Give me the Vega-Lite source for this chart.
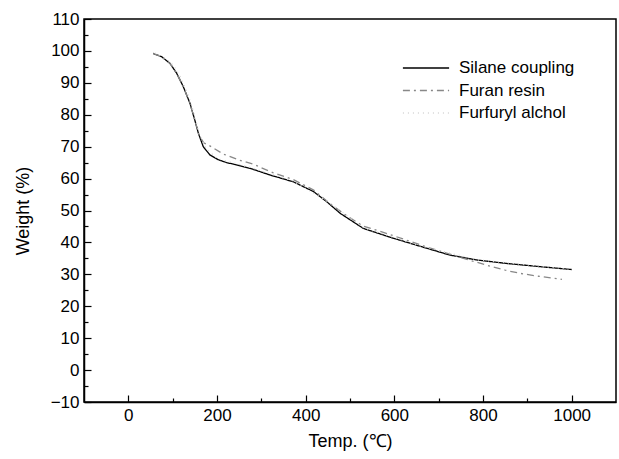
{
  "$schema": "https://vega.github.io/schema/vega-lite/v6.json",
  "autosize": {"type": "none"},
  "padding": {"left": 84, "top": 19, "right": 3, "bottom": 57},
  "width": 532,
  "height": 383,
  "background": "white",
  "config": {
    "font": "Liberation Sans",
    "view": {"stroke": "black", "strokeWidth": 1.5},
    "axis": {"grid": false, "domainColor": "black", "domainWidth": 1.5, "tickColor": "black", "tickWidth": 1.2, "labelColor": "black", "titleColor": "black", "labelFontSize": 17, "titleFontSize": 18, "titleFontWeight": "normal", "labelFont": "Liberation Sans", "titleFont": "Liberation Sans"}
  },
  "data": {"values": [
    {"s": "Silane coupling", "t": 56, "w": 99.2},
    {"s": "Silane coupling", "t": 75, "w": 98.2},
    {"s": "Silane coupling", "t": 94, "w": 96.1},
    {"s": "Silane coupling", "t": 109, "w": 93.0},
    {"s": "Silane coupling", "t": 124, "w": 88.8},
    {"s": "Silane coupling", "t": 139, "w": 83.6},
    {"s": "Silane coupling", "t": 150, "w": 78.3},
    {"s": "Silane coupling", "t": 158, "w": 74.2},
    {"s": "Silane coupling", "t": 169, "w": 70.0},
    {"s": "Silane coupling", "t": 184, "w": 67.4},
    {"s": "Silane coupling", "t": 203, "w": 65.9},
    {"s": "Silane coupling", "t": 222, "w": 65.0},
    {"s": "Silane coupling", "t": 250, "w": 64.1},
    {"s": "Silane coupling", "t": 275, "w": 63.2},
    {"s": "Silane coupling", "t": 320, "w": 61.1},
    {"s": "Silane coupling", "t": 372, "w": 59.0},
    {"s": "Silane coupling", "t": 418, "w": 55.9},
    {"s": "Silane coupling", "t": 448, "w": 52.7},
    {"s": "Silane coupling", "t": 478, "w": 49.1},
    {"s": "Silane coupling", "t": 530, "w": 44.4},
    {"s": "Silane coupling", "t": 591, "w": 41.6},
    {"s": "Silane coupling", "t": 658, "w": 38.8},
    {"s": "Silane coupling", "t": 726, "w": 36.0},
    {"s": "Silane coupling", "t": 786, "w": 34.5},
    {"s": "Silane coupling", "t": 854, "w": 33.4},
    {"s": "Silane coupling", "t": 929, "w": 32.4},
    {"s": "Silane coupling", "t": 1000, "w": 31.5},
    {"s": "Furan resin", "t": 56, "w": 99.2},
    {"s": "Furan resin", "t": 75, "w": 98.2},
    {"s": "Furan resin", "t": 94, "w": 96.1},
    {"s": "Furan resin", "t": 109, "w": 93.0},
    {"s": "Furan resin", "t": 124, "w": 88.8},
    {"s": "Furan resin", "t": 139, "w": 83.6},
    {"s": "Furan resin", "t": 150, "w": 78.3},
    {"s": "Furan resin", "t": 160, "w": 73.5},
    {"s": "Furan resin", "t": 170, "w": 71.2},
    {"s": "Furan resin", "t": 181, "w": 70.5},
    {"s": "Furan resin", "t": 214, "w": 67.7},
    {"s": "Furan resin", "t": 250, "w": 65.8},
    {"s": "Furan resin", "t": 282, "w": 64.5},
    {"s": "Furan resin", "t": 327, "w": 61.8},
    {"s": "Furan resin", "t": 372, "w": 59.7},
    {"s": "Furan resin", "t": 418, "w": 56.4},
    {"s": "Furan resin", "t": 459, "w": 51.7},
    {"s": "Furan resin", "t": 485, "w": 49.1},
    {"s": "Furan resin", "t": 508, "w": 47.0},
    {"s": "Furan resin", "t": 530, "w": 45.1},
    {"s": "Furan resin", "t": 568, "w": 43.5},
    {"s": "Furan resin", "t": 666, "w": 38.9},
    {"s": "Furan resin", "t": 756, "w": 35.0},
    {"s": "Furan resin", "t": 820, "w": 32.4},
    {"s": "Furan resin", "t": 850, "w": 31.3},
    {"s": "Furan resin", "t": 884, "w": 30.3},
    {"s": "Furan resin", "t": 925, "w": 29.4},
    {"s": "Furan resin", "t": 978, "w": 28.4},
    {"s": "Furfuryl alchol", "t": 60, "w": 99.3},
    {"s": "Furfuryl alchol", "t": 85, "w": 97.6},
    {"s": "Furfuryl alchol", "t": 102, "w": 95.4},
    {"s": "Furfuryl alchol", "t": 118, "w": 91.8},
    {"s": "Furfuryl alchol", "t": 134, "w": 86.6},
    {"s": "Furfuryl alchol", "t": 148, "w": 80.5},
    {"s": "Furfuryl alchol", "t": 160, "w": 74.0},
    {"s": "Furfuryl alchol", "t": 175, "w": 69.5},
    {"s": "Furfuryl alchol", "t": 200, "w": 66.3},
    {"s": "Furfuryl alchol", "t": 275, "w": 63.5},
    {"s": "Furfuryl alchol", "t": 372, "w": 59.2},
    {"s": "Furfuryl alchol", "t": 448, "w": 53.0},
    {"s": "Furfuryl alchol", "t": 530, "w": 44.6},
    {"s": "Furfuryl alchol", "t": 658, "w": 38.9},
    {"s": "Furfuryl alchol", "t": 786, "w": 34.6},
    {"s": "Furfuryl alchol", "t": 929, "w": 32.5},
    {"s": "Furfuryl alchol", "t": 995, "w": 31.6}
  ]},
  "mark": {"type": "line", "strokeWidth": 1.3},
  "encoding": {
    "x": {"field": "t", "type": "quantitative", "title": "Temp. (℃)",
      "scale": {"domain": [-100, 1100], "nice": false, "zero": false},
      "axis": {"values": [0, 100, 200, 300, 400, 500, 600, 700, 800, 900, 1000], "format": "d",
        "labelExpr": "datum.value % 200 === 0 ? datum.label : ''",
        "tickSize": {"condition": {"test": "datum.value % 200 === 0", "value": -7}, "value": -4},
        "labelPadding": 12, "titlePadding": 9, "labelFlush": false}},
    "y": {"field": "w", "type": "quantitative", "title": "Weight (%)",
      "scale": {"domain": [-10, 110], "nice": false, "zero": false},
      "axis": {"values": [-10, -5, 0, 5, 10, 15, 20, 25, 30, 35, 40, 45, 50, 55, 60, 65, 70, 75, 80, 85, 90, 95, 100, 105, 110], "format": "d",
        "labelExpr": "datum.value % 10 === 0 ? datum.label : ''",
        "tickSize": {"condition": {"test": "datum.value % 10 === 0", "value": -7}, "value": -4},
        "labelPadding": 12, "titlePadding": 18, "labelFlush": false}},
    "color": {"field": "s", "type": "nominal", "title": null,
      "scale": {"domain": ["Silane coupling", "Furan resin", "Furfuryl alchol"], "range": ["#000000", "#888888", "#d4d4d4"]},
      "legend": {"orient": "none", "legendX": 330, "legendY": 37, "symbolType": "M-2.1,0H2.1", "symbolSize": 484, "symbolStrokeWidth": 1.3, "labelFontSize": 17, "labelFont": "Liberation Sans", "labelColor": "black", "rowPadding": 2.5, "labelOffset": 21}},
    "strokeDash": {"field": "s", "type": "nominal", "title": null,
      "scale": {"domain": ["Silane coupling", "Furan resin", "Furfuryl alchol"], "range": [[1, 0], [7, 4, 2, 4], [1, 4]]},
      "legend": {"orient": "none", "legendX": 330, "legendY": 37, "symbolType": "M-2.1,0H2.1", "symbolSize": 484, "symbolStrokeWidth": 1.3, "labelFontSize": 17, "labelFont": "Liberation Sans", "labelColor": "black", "rowPadding": 2.5, "labelOffset": 21}}
  }
}
